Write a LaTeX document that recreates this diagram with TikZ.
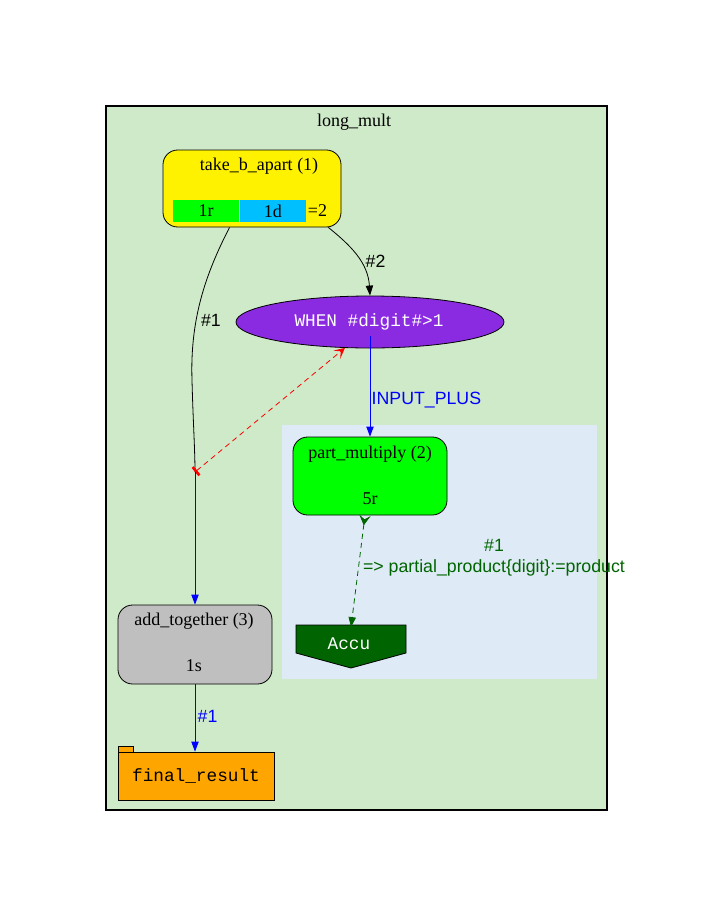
\documentclass[tikz,border=0pt]{standalone}
\usepackage{fontspec}
\setmainfont{Liberation Serif}
\setsansfont{Liberation Sans}
\setmonofont{Liberation Mono}
\usepackage{tikz}
\usetikzlibrary{arrows.meta,positioning,shapes.geometric,calc}
\definecolor{clustgreen}{RGB}{207,234,200}
\definecolor{clustblue}{RGB}{222,234,245}
\definecolor{cellgreen}{RGB}{0,255,0}
\definecolor{cellblue}{RGB}{0,191,255}
\definecolor{violet}{RGB}{138,43,226}
\definecolor{accugreen}{RGB}{0,100,0}
\definecolor{resorange}{RGB}{255,165,0}
\tikzset{
  txt/.style={font=\fontsize{13.5}{15}\selectfont, inner sep=0pt},
  elbl/.style={font=\sffamily\fontsize{13.3}{15.5}\selectfont, inner sep=1pt},
  mono/.style={font=\ttfamily\fontsize{13.3}{15}\selectfont, inner sep=0pt},
  proc/.style={draw, rounded corners=11pt, line width=0.6pt, inner sep=0pt},
  cell/.style={inner sep=0pt, minimum width=49.5pt, minimum height=16.5pt, txt},
  ghead/.style={-{Triangle[length=7.5pt,width=5.5pt]}},
  dflow/.style={dashed, dash pattern=on 4pt off 3pt}
}
\begin{document}
\begin{tikzpicture}[x=0.75pt, y=-0.75pt, line width=0.6pt]
\useasboundingbox (0,0) rectangle (725,918);
% clusters
\draw[fill=clustgreen, line width=1.4pt] (106,106) rectangle (607,810);
\node[txt] (title) at (354,122) {long\_mult};
\fill[clustblue] (282,425) rectangle (597,679);

% take_b_apart
\node[proc, fill=yellow, minimum width=133.5pt, minimum height=57.75pt] (tba) at (252,188.5) {};
\node[txt] (tbaname) at (259,166) {take\_b\_apart (1)};
\node[cell, fill=cellgreen] (c1r) at (206,211) {1r};
\node[cell, fill=cellblue, right=0pt of c1r] (c1d) {1d};
\node[txt, right=1pt of c1d] (ceq) {=2};

% condition
\node[draw, ellipse, fill=violet, minimum width=201pt, minimum height=39pt, inner sep=0pt] (when) at (370,322) {};
\node[mono, text=white] (whentxt) at (369,322) {WHEN \#digit\#>1};

% junction point
\node[inner sep=0pt, minimum size=1pt] (jn) at (195,472) {};

% part_multiply
\node[proc, fill=cellgreen, minimum width=115.5pt, minimum height=58.5pt] (pm) at (370,476) {};
\node[txt] (pmname) at (370,454) {part\_multiply (2)};
\node[txt] (pmcnt) at (370,499) {5r};

% Accu
\draw[fill=accugreen] (296,625) -- (406,625) -- (406,653) -- (351,668) -- (296,653) -- cycle;
\node[mono, text=white, minimum width=82.5pt, minimum height=30pt] (accu) at (351,647.5) {};
\node[mono, text=white] (accutxt) at (349,644) {Accu};

% add_together
\node[proc, fill=lightgray, minimum width=115.5pt, minimum height=59.25pt] (at) at (195,644.5) {};
\node[txt] (atname) at (194,621) {add\_together (3)};
\node[txt] (atcnt) at (194,666) {1s};

% final_result
\draw[fill=resorange] (118,746) rectangle (133,752);
\node[draw, fill=resorange, mono, minimum width=117pt, minimum height=36pt] (fr) at (196,776) {final\_result};

% edges
\draw (tba.240) .. controls (205,275) and (190,320) .. (192,380)
  .. controls (193,420) and (195,450) .. (jn.center);
\node[elbl] (l1) at (211,320) {\#1};
\draw[ghead] (tba.-27) .. controls (350,245) and (368,262) .. (when.north);
\node[elbl, anchor=west] (l2) at (364,261) {\#2};
\draw[red, dflow, {Bar[width=8pt,line width=2pt]}-{Stealth[inset=4pt,length=8pt,width=8pt]}]
  (jn.center) -- (when.226);
\draw[blue, ghead] ($(when.center)+(0,14)$) -- (pm.north);
\node[elbl, blue, anchor=west] (lip) at (370,400) {INPUT\_PLUS};
\draw[accugreen, dflow, {Stealth[reversed,inset=3pt,length=7.5pt,width=8.5pt]}-{Triangle[length=7.5pt,width=5.5pt]}]
  ($(pm.south)+(-5,0)$) -- (accu.north);
\node[elbl, text=accugreen, align=center] (lacc) at (494,558) {\#1\\=> partial\_product\{digit\}:=product};
\draw[blue, ghead] (jn.center) -- (at.north);
\draw[blue, ghead] (at.south) -- (fr.north -| at.south);
\node[elbl, blue, anchor=west] (l3) at (196,716) {\#1};
\end{tikzpicture}
\end{document}
